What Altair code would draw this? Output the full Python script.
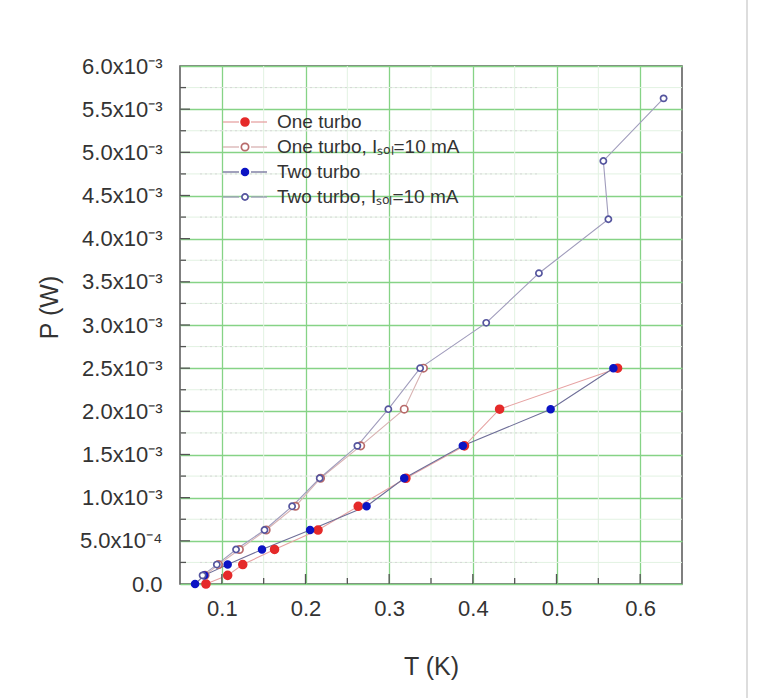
import altair as alt
import pandas as pd

# ---------------- data ----------------
series_names = ["One turbo", "One turbo, Iₛₒₗ=10 mA", "Two turbo", "Two turbo, Iₛₒₗ=10 mA"]

one_T = [0.081, 0.107, 0.125, 0.163, 0.215, 0.263, 0.320, 0.390, 0.432, 0.573]
one_P = [0.0, 0.0001, 0.000225, 0.0004, 0.000625, 0.0009, 0.001225, 0.0016, 0.002025, 0.0025]

one10_T = [0.080, 0.096, 0.121, 0.153, 0.188, 0.218, 0.266, 0.318, 0.341]
one10_P = [0.0001, 0.000225, 0.0004, 0.000625, 0.0009, 0.001225, 0.0016, 0.002025, 0.0025]

two_T = [0.068, 0.079, 0.107, 0.148, 0.2055, 0.273, 0.318, 0.388, 0.493, 0.568]
two_P = [0.0, 0.0001, 0.000225, 0.0004, 0.000625, 0.0009, 0.001225, 0.0016, 0.002025, 0.0025]

two10_T = [0.077, 0.094, 0.117, 0.151, 0.184, 0.217, 0.262, 0.299, 0.337, 0.416, 0.479, 0.562, 0.556, 0.628]
two10_P = [0.0001, 0.000225, 0.0004, 0.000625, 0.0009, 0.001225, 0.0016, 0.002025, 0.0025,
           0.003025, 0.0036, 0.004225, 0.0049, 0.005625]

x_major = [0.1, 0.2, 0.3, 0.4, 0.5, 0.6]
x_minor = [0.15, 0.25, 0.35, 0.45, 0.55]
y_major = [0.0, 0.0005, 0.001, 0.0015, 0.002, 0.0025, 0.003, 0.0035, 0.004, 0.0045, 0.005, 0.0055, 0.006]
y_minor = [0.00025, 0.00075, 0.00125, 0.00175, 0.00225, 0.00275, 0.00325, 0.00375,
           0.00425, 0.00475, 0.00525, 0.00575]

# ---------------- styles ----------------
fill_colors = ["#e52a2a", "#ffffff", "#0c14c4", "#ffffff"]
stroke_colors = ["#e52a2a", "#b86a6a", "#0c14c4", "#55559e"]
line_colors = ["#e6a2a2", "#d8b2b2", "#6e6e98", "#a09cbc"]
marker_sizes = [62, 38, 62, 38]

rows = []
for name, ts, ps in zip(series_names, [one_T, one10_T, two_T, two10_T],
                        [one_P, one10_P, two_P, two10_P]):
    for i, (t, p) in enumerate(zip(ts, ps)):
        rows.append({"series": name, "T": t, "P": p, "idx": i})
df = pd.DataFrame(rows)
legend_df = pd.DataFrame({"series": series_names})

W, H = 502, 518
FONT = "Liberation Sans"

xscale = alt.Scale(domain=[0.05, 0.65], nice=False, zero=False)
yscale = alt.Scale(domain=[0, 0.006], nice=False, zero=False)

x_axis = alt.Axis(values=x_major, format=".1f", ticks=False, domain=False, grid=True,
                  gridColor="#86d386", gridWidth=1.3, labelFontSize=22, labelFont=FONT,
                  labelColor="#333333", labelPadding=14, title="T (K)", titleFontSize=25,
                  titleFont=FONT, titleFontWeight="normal", titleColor="#333333",
                  titleY=82, titleBaseline="middle")
y_label_expr = ("datum.value == 0 ? '0.0' : (datum.value < 0.00099 ? "
                "format(datum.value*10000, '.1f') + 'x10⁻⁴' : "
                "format(datum.value*1000, '.1f') + 'x10⁻³')")
y_axis = alt.Axis(values=y_major, labelExpr=y_label_expr, ticks=False, domain=False, grid=True,
                  gridColor="#86d386", gridWidth=1.3, labelFontSize=22, labelFont=FONT,
                  labelColor="#333333", labelPadding=18, title="P (W)", titleFontSize=25,
                  titleFont=FONT, titleFontWeight="normal", titleColor="#333333",
                  titleX=-131, titleY=241, titleBaseline="middle")

X = lambda f: alt.X(f, type="quantitative", scale=xscale, axis=x_axis, title="T (K)")
Y = lambda f: alt.Y(f, type="quantitative", scale=yscale, axis=y_axis, title="P (W)")

color_enc = alt.Color("series:N", scale=alt.Scale(domain=series_names, range=line_colors), legend=None)
fill_enc = alt.Fill("series:N", scale=alt.Scale(domain=series_names, range=fill_colors), legend=None)
stroke_enc = alt.Stroke("series:N", scale=alt.Scale(domain=series_names, range=stroke_colors), legend=None)
size_enc = alt.Size("series:N", scale=alt.Scale(domain=series_names, range=marker_sizes), legend=None)

xmaj_df = pd.DataFrame({"v": x_major})
xmin_df = pd.DataFrame({"v": x_minor})
ymaj_df = pd.DataFrame({"v": y_major[1:-1]})
ymin_df = pd.DataFrame({"v": y_minor})

minor_vgrid = alt.Chart(xmin_df).mark_rule(color="#e2f2e2", strokeWidth=1).encode(x=X("v"))
minor_hgrid = alt.Chart(ymin_df).mark_rule(color="#e2f2e2", strokeWidth=1).encode(y=Y("v"))
dotted = alt.Chart(ymin_df).mark_rule(color="#d6d6d6", strokeWidth=1, strokeDash=[2, 3]).encode(
    y=Y("v"), x=alt.value(20), x2=alt.value(357))

lines = alt.Chart(df).mark_line(strokeWidth=1.1).encode(
    x=X("T"), y=Y("P"), color=color_enc, order=alt.Order("idx:Q"))

points = alt.Chart(df).mark_point(strokeWidth=1.7, opacity=1).encode(
    x=X("T"), y=Y("P"), fill=fill_enc, stroke=stroke_enc, size=size_enc)

xt_major = alt.Chart(xmaj_df).mark_rule(color="#555555", strokeWidth=1.3).encode(
    x=X("v"), y=alt.value(H), y2=alt.value(H - 10))
xt_minor = alt.Chart(xmin_df).mark_rule(color="#555555", strokeWidth=1.3).encode(
    x=X("v"), y=alt.value(H), y2=alt.value(H - 6))
yt_major = alt.Chart(ymaj_df).mark_rule(color="#555555", strokeWidth=1.3).encode(
    y=Y("v"), x=alt.value(0), x2=alt.value(10))
yt_minor = alt.Chart(ymin_df).mark_rule(color="#555555", strokeWidth=1.3).encode(
    y=Y("v"), x=alt.value(0), x2=alt.value(6))

# light border line at the right edge of the picture
edge = alt.Chart(legend_df).mark_rule(color="#dddddd", strokeWidth=1.5).encode(
    x=alt.value(567), y=alt.value(-66), y2=alt.value(632))

main = alt.layer(minor_vgrid, minor_hgrid, dotted, lines, points,
                 xt_major, xt_minor, yt_major, yt_minor, edge)

# ---------------- legend inside the plot ----------------
leg_y = alt.Y("series:N", scale=alt.Scale(type="point", domain=series_names, range=[56, 131], padding=0),
              axis=None)
leg_seg_l = alt.Chart(legend_df).mark_rule(strokeWidth=1.3).encode(
    y=leg_y, x=alt.value(43), x2=alt.value(59), color=color_enc)
leg_seg_r = alt.Chart(legend_df).mark_rule(strokeWidth=1.3).encode(
    y=leg_y, x=alt.value(71), x2=alt.value(87), color=color_enc)
leg_pts = alt.Chart(legend_df).mark_point(strokeWidth=1.7, opacity=1).encode(
    y=leg_y, x=alt.value(65), fill=fill_enc, stroke=stroke_enc, size=size_enc)
leg_txt = alt.Chart(legend_df).mark_text(align="left", baseline="middle", fontSize=19, font=FONT,
                                         color="#333333").encode(
    y=leg_y, x=alt.value(97), text="series:N")
legend_layer = alt.layer(leg_seg_l, leg_seg_r, leg_pts, leg_txt)

chart = alt.layer(main, legend_layer).resolve_scale(y="independent").properties(
    width=W, height=H,
    padding={"left": 180, "top": 66, "right": 86, "bottom": 114},
    autosize=alt.AutoSizeParams(type="none"),
    background="white",
).configure_view(stroke="#555555", strokeWidth=1.5)

chart.save("out.html", embed_options={"renderer": "svg", "actions": False})
